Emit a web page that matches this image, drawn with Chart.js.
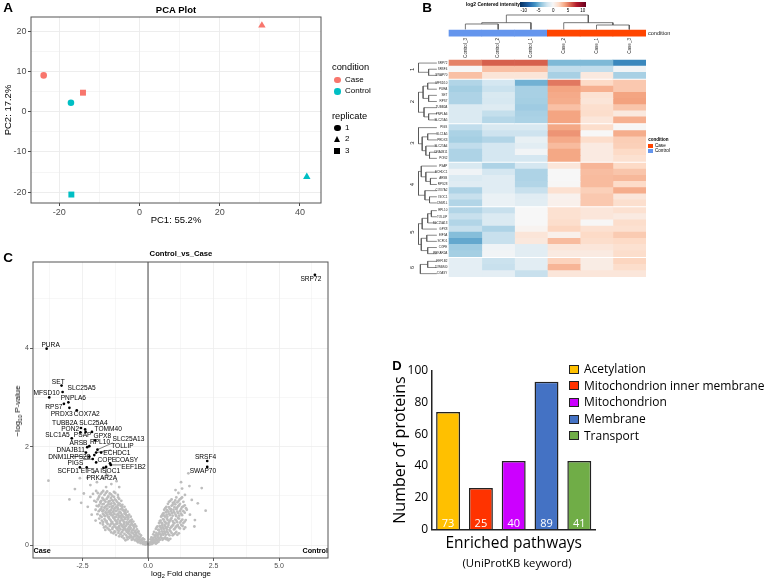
<!DOCTYPE html>
<html>
<head>
<meta charset="utf-8">
<title>Proteomics overview</title>
<script src="https://cdn.jsdelivr.net/npm/chart.js@4.4.1/dist/chart.umd.min.js"></script>
<style>
  body { margin: 0; background: #fff; }
  #fig { position: relative; width: 770px; height: 580px; overflow: hidden; font-family: "Liberation Sans", Arial, sans-serif; color: #000; }
  canvas { position: absolute; }
  .t { position: absolute; white-space: nowrap; line-height: 1; }
  .c { transform: translate(-50%, -50%); }
  .l { transform: translateY(-50%); }
  .b { font-weight: bold; }
  .os { font-family: "Open Sans", sans-serif; }
  .sw { position: absolute; }
  sub { font-size: 70%; vertical-align: -0.3em; line-height: 0; }
</style>
</head>
<body>
<div id="fig">
  <canvas id="pca" width="380" height="235" style="left:0;top:0"></canvas>
  <canvas id="heat" width="390" height="290" style="left:380px;top:0"></canvas>
  <canvas id="volcano" width="380" height="335" style="left:0;top:245px"></canvas>
  <canvas id="keywords" width="390" height="290" style="left:380px;top:290px"></canvas>

  <!-- panel letters -->
  <div class="t c b" style="left:8px;top:8px;font-size:13.5px">A</div>
  <div class="t c b" style="left:427px;top:8px;font-size:13.5px">B</div>
  <div class="t c b" style="left:8px;top:258px;font-size:13.5px">C</div>
  <div class="t c b" style="left:397px;top:365px;font-size:13px">D</div>

  <!-- A: title + legend -->
  <div class="t c b" style="left:176px;top:10px;font-size:9.5px">PCA Plot</div>
  <div class="t l" style="left:332px;top:68px;font-size:9.3px">condition</div>
  <div class="sw" style="left:334px;top:76.8px;width:6.5px;height:6.5px;border-radius:50%;background:#F8766D"></div>
  <div class="t l" style="left:345px;top:80px;font-size:8px">Case</div>
  <div class="sw" style="left:334px;top:88.1px;width:6.5px;height:6.5px;border-radius:50%;background:#00BFC4"></div>
  <div class="t l" style="left:345px;top:91.3px;font-size:8px">Control</div>
  <div class="t l" style="left:332px;top:116.5px;font-size:9.3px">replicate</div>
  <div class="sw" style="left:334px;top:124.5px;width:6.5px;height:6.5px;border-radius:50%;background:#000"></div>
  <div class="t l" style="left:345px;top:127.7px;font-size:8px">1</div>
  <div class="sw" style="left:333.6px;top:136px;width:0;height:0;border-left:3.7px solid transparent;border-right:3.7px solid transparent;border-bottom:6.4px solid #000"></div>
  <div class="t l" style="left:345px;top:139.3px;font-size:8px">2</div>
  <div class="sw" style="left:334.3px;top:148px;width:6px;height:6px;background:#000"></div>
  <div class="t l" style="left:345px;top:151px;font-size:8px">3</div>

  <!-- B: colour key + condition legend -->
  <div class="t l b" style="left:466px;top:4.5px;font-size:4.9px">log2 Centered intensity</div>
  <div class="sw" style="left:520px;top:1.7px;width:66px;height:5.6px;background:linear-gradient(to right,#053061 0%,#2166AC 14%,#4393C3 23%,#92C5DE 32%,#D1E5F0 41%,#F7F7F7 50%,#FDDBC7 59%,#F4A582 68%,#D6604D 77%,#B2182B 86%,#67001F 100%)"></div>
  <div class="t c" style="left:523.7px;top:11px;font-size:4.5px">-10</div>
  <div class="t c" style="left:538.5px;top:11px;font-size:4.5px">-5</div>
  <div class="t c" style="left:553.2px;top:11px;font-size:4.5px">0</div>
  <div class="t c" style="left:568px;top:11px;font-size:4.5px">5</div>
  <div class="t c" style="left:582.7px;top:11px;font-size:4.5px">10</div>
  <div class="t l b" style="left:648.3px;top:140px;font-size:4.5px">condition</div>
  <div class="sw" style="left:648.3px;top:144px;width:4.4px;height:4.4px;background:#FF4500"></div>
  <div class="t l" style="left:655px;top:146.2px;font-size:4.6px">Case</div>
  <div class="sw" style="left:648.3px;top:148.6px;width:4.4px;height:4.6px;background:#6495ED"></div>
  <div class="t l" style="left:655px;top:151px;font-size:4.6px">Control</div>

  <!-- C: title + axis titles -->
  <div class="t c b" style="left:181px;top:254px;font-size:7.7px">Control_vs_Case</div>
  <div class="t c" style="left:181px;top:574px;font-size:8px">log<sub>2</sub> Fold change</div>
  <div class="t" style="left:18px;top:411px;font-size:8px;transform:translate(-50%,-50%) rotate(-90deg)">&minus;log<sub>10</sub> P-value</div>

  <!-- D: legend + subtitle -->
  <div class="sw" style="left:569px;top:364.5px;width:8px;height:7px;border:1.2px solid #222;background:#FFC000"></div>
  <div class="t l os" style="left:584px;top:369px;font-size:12px">Acetylation</div>
  <div class="sw" style="left:569px;top:381.2px;width:8px;height:7px;border:1.2px solid #222;background:#FF3300"></div>
  <div class="t l os" style="left:584px;top:385.7px;font-size:12px">Mitochondrion inner membrane</div>
  <div class="sw" style="left:569px;top:397.8px;width:8px;height:7px;border:1.2px solid #222;background:#CC00FF"></div>
  <div class="t l os" style="left:584px;top:402.3px;font-size:12px">Mitochondrion</div>
  <div class="sw" style="left:569px;top:414.5px;width:8px;height:7px;border:1.2px solid #222;background:#4472C4"></div>
  <div class="t l os" style="left:584px;top:419px;font-size:12px">Membrane</div>
  <div class="sw" style="left:569px;top:431.2px;width:8px;height:7px;border:1.2px solid #222;background:#70AD47"></div>
  <div class="t l os" style="left:584px;top:435.7px;font-size:12px">Transport</div>
  <div class="t c os" style="left:517px;top:563px;font-size:11.3px">(UniProtKB keyword)</div>
</div>

<script>
Chart.defaults.font.family = '"Liberation Sans", Arial, sans-serif';

//================================ DATA ================================

// A - PCA scores, replicates 1, 2, 3
var pcaCaseX = [-23.9, 30.5, -14.1];
var pcaCaseY = [9.0, 21.4, 4.7];
var pcaControlX = [-17.1, 41.7, -17.0];
var pcaControlY = [2.2, -16.2, -20.6];

// B - heatmap (log2 centered intensity)
var heatColumns = ['Control_3', 'Control_2', 'Control_1', 'Case_2', 'Case_1', 'Case_3'];
var heatCondition = ['Control', 'Control', 'Control', 'Case', 'Case', 'Case'];
var groupSizes = [3, 7, 6, 7, 8, 3];
var heatGenes = ['SRP72', 'SRSF4', 'SWAP70',
  'MFSD10', 'PURA', 'SET', 'RPS7', 'TUBB2A', 'PNPLA6', 'SLC25A5',
  'PIGS', 'SLC1A5', 'PRDX3', 'SLC25A4', 'DNAJB11', 'PON2',
  'PSAP', 'ECHDC1', 'ARSB', 'RPS28', 'COX7A2', 'ISOC1', 'DNM1L',
  'RPL10', 'TOLLIP', 'SLC25A13', 'GPX8', 'EIF5A', 'SCFD1', 'COPE', 'PRKAR2A',
  'EEF1B2', 'TOMM40', 'COASY'];
var heatValues = [
  [5, 6, 6, -4.5, -4.5, -6.5],
  [0, 3, 3, -2.5, -2.5, -0.3],
  [3, 1.3, 1.3, -3.3, 1, -3.3],
  [-3, -1.8, -4.8, 5.3, 2, 2.7],
  [-3.4, -2.2, -3.3, 4, 3.6, 2.7],
  [-3.1, -1.6, -3.3, 3.8, 1.5, 4],
  [-3.1, -1.7, -3.4, 3.7, 1.3, 4.1],
  [-1.5, -1.3, -3.6, 3, 1.7, 2.8],
  [-1.5, -2.4, -3.3, 4, 1.8, 1],
  [-1.5, -2.9, -3.2, 4, 1.2, 3.6],
  [-2.5, -1.6, -1.6, 3.9, 1.8, 0.1],
  [-3.2, -2.1, -2.1, 4.5, 0, 3.7],
  [-3.4, -3, -0.8, 3.8, 1.8, 2.5],
  [-2.5, -1.8, -1.1, 3.2, 0.9, 2.4],
  [-3.1, -1.8, -0.3, 3.9, 0.9, 2],
  [-3.1, -1.8, -1.8, 3.9, 0.9, 1.6],
  [-1.6, -3.1, -1.8, 1.2, 3.4, 2],
  [-0.4, -1.8, -3.1, 0, 3.1, 2.8],
  [-1.5, -1.2, -3.1, 0, 3.2, 3.3],
  [-1.2, -1.2, -3, 0.1, 3.2, 1.9],
  [-3.1, -1.2, -2.3, 1.6, 2.4, 3.7],
  [-2.3, -0.7, -1.2, 0.4, 2.7, 1.2],
  [-3, -0.7, -1.1, 0.5, 2.7, 1.7],
  [-3, -2.3, 0, 1.6, 1.2, 1.6],
  [-2.3, -1.5, 0, 1.6, 1.2, 0.9],
  [-3, -1.5, 0, 1.8, 0.1, 1.8],
  [-2.3, -3.1, 0.3, 2.2, 1.6, 1.6],
  [-4.3, -2.3, 1.3, 0.5, 2, 2.6],
  [-5.2, -2.3, 1.1, 3.2, 1.8, 2],
  [-3.6, -0.4, -1.1, 1.2, 1.2, 1.6],
  [-3.4, -0.3, -1.1, 0.9, 0.9, 1.8],
  [-1, -2.2, -1.1, 2.3, 0.8, 2.2],
  [-1, -2.3, -1.1, 3.4, 0.8, 1.8],
  [-1, -1, -2.3, 1.2, 1.2, 1.2]
];
// dendrograms: [height, left, right], leaves are row / column indices
var colTree = [1.0, [0.47, [0.38, 0, 1], 2], [0.47, 3, [0.31, 4, 5]]];
var rowTrees = [
  [1.0, 0, [0.45, 1, 2]],
  [1.0, [0.75, [0.5, 3, 4], [0.45, 5, 6]], [0.7, 7, [0.45, 8, 9]]],
  [1.0, 10, [0.8, [0.5, 11, 12], [0.6, 13, [0.4, 14, 15]]]],
  [1.0, [0.85, 16, [0.6, 17, [0.35, 18, 19]]], [0.65, 20, [0.4, 21, 22]]],
  [1.0, [0.8, [0.5, [0.3, 23, 24], 25], 26], [0.85, [0.55, 27, 28], [0.5, 29, 30]]],
  [0.9, [0.5, 31, 32], 33]
];

// C - volcano, labelled proteins
var volcanoGenes = ['SRP72', 'PURA', 'SET', 'SLC25A5', 'MFSD10', 'PNPLA6', 'RPS7', 'PRDX3', 'COX7A2',
  'TUBB2A', 'SLC25A4', 'PON2', 'TOMM40', 'SLC1A5', 'PSAP', 'GPX8', 'ARSB', 'RPL10', 'SLC25A13',
  'TOLLIP', 'DNAJB11', 'ECHDC1', 'DNM1L', 'RPS28', 'COPE', 'COASY', 'PIGS', 'EEF1B2', 'SCFD1',
  'EIF5A', 'ISOC1', 'PRKAR2A', 'SRSF4', 'SWAP70'];
var volcanoFC = [6.37, -3.87, -3.30, -3.26, -3.77, -3.04, -3.21, -3.00, -2.72,
  -2.56, -2.40, -2.58, -2.14, -2.91, -2.38, -2.02, -2.32, -2.24, -1.93,
  -1.98, -2.37, -1.79, -2.24, -2.05, -1.98, -1.45, -2.11, -1.42, -2.60,
  -2.34, -1.70, -1.60, 2.26, 2.26];
var volcanoP = [5.49, 3.99, 3.24, 3.11, 3.00, 2.90, 2.87, 2.79, 2.74,
  2.38, 2.35, 2.29, 2.30, 2.17, 2.30, 2.13, 1.99, 2.01, 1.94,
  1.88, 1.88, 1.88, 1.80, 1.83, 1.68, 1.66, 1.75, 1.63, 1.58,
  1.58, 1.57, 1.59, 1.71, 1.59];
// C - volcano, remaining proteins [log2FC, -log10 p]
var otherProteins = [
  [-0.04,0.02],[-0.08,0.05],[-0.12,0.03],[-0.15,0.07],[-0.2,0.05],[-0.24,0.09],[-0.28,0.04],[-0.33,0.08],[-0.38,0.06],[-0.1,0.01],[-0.18,0.02],
  [-0.15,0.12],[-0.2,0.14],[-0.26,0.11],[-0.32,0.15],[-0.38,0.12],[-0.44,0.14],[-0.5,0.1],[-0.56,0.13],[-0.62,0.11],[-0.7,0.15],[-0.78,0.12],[-0.86,0.1],[-0.29,0.17],
  [-0.27,0.2],[-0.33,0.23],[-0.4,0.19],[-0.46,0.25],[-0.52,0.21],[-0.58,0.24],[-0.64,0.18],[-0.7,0.22],[-0.76,0.25],[-0.83,0.2],[-0.9,0.23],[-0.97,0.19],[-1.05,0.22],[-1.13,0.25],[-1.22,0.21],[-1.32,0.24],[-0.55,0.17],[-0.73,0.17],
  [-0.36,0.28],[-0.42,0.32],[-0.48,0.29],[-0.54,0.34],[-0.6,0.3],[-0.66,0.35],[-0.72,0.28],[-0.78,0.33],[-0.85,0.3],[-0.92,0.35],[-0.98,0.27],[-1.05,0.32],[-1.12,0.29],[-1.2,0.34],[-1.28,0.28],[-1.36,0.33],[-1.45,0.3],[-1.55,0.35],[-1.63,0.31],
  [-0.45,0.38],[-0.5,0.42],[-0.57,0.4],[-0.63,0.45],[-0.7,0.38],[-0.76,0.43],[-0.83,0.4],[-0.9,0.45],[-0.96,0.37],[-1.03,0.42],[-1.1,0.39],[-1.17,0.44],[-1.24,0.37],[-1.31,0.42],[-1.38,0.45],[-1.46,0.39],[-1.54,0.43],[-1.62,0.38],[-1.72,0.42],[-1.82,0.45],
  [-0.56,0.48],[-0.62,0.52],[-0.68,0.5],[-0.75,0.55],[-0.82,0.47],[-0.88,0.53],[-0.95,0.5],[-1.02,0.55],[-1.08,0.48],[-1.15,0.52],[-1.22,0.49],[-1.29,0.54],[-1.36,0.47],[-1.43,0.51],[-1.5,0.55],[-1.58,0.49],[-1.66,0.53],[-1.76,0.5],[-1.86,0.54],
  [-0.66,0.58],[-0.72,0.62],[-0.79,0.6],[-0.86,0.65],[-0.93,0.57],[-1.0,0.62],[-1.07,0.59],[-1.14,0.64],[-1.21,0.58],[-1.28,0.63],[-1.35,0.6],[-1.42,0.65],[-1.49,0.57],[-1.56,0.62],[-1.64,0.59],[-1.72,0.64],[-1.82,0.6],[-1.93,0.63],
  [-0.78,0.68],[-0.85,0.72],[-0.92,0.7],[-0.99,0.75],[-1.06,0.67],[-1.13,0.73],[-1.2,0.7],[-1.27,0.75],[-1.34,0.68],[-1.41,0.72],[-1.48,0.69],[-1.55,0.74],[-1.62,0.67],[-1.7,0.71],[-1.78,0.74],[-1.88,0.69],[-2.0,0.72],
  [-0.9,0.78],[-0.98,0.82],[-1.05,0.8],[-1.12,0.85],[-1.19,0.77],[-1.26,0.83],[-1.33,0.8],[-1.4,0.85],[-1.47,0.78],[-1.54,0.82],[-1.61,0.79],[-1.69,0.84],[-1.77,0.78],[-1.86,0.82],[-1.96,0.8],
  [-1.02,0.9],[-1.1,0.94],[-1.18,0.88],[-1.26,0.93],[-1.34,0.9],[-1.42,0.96],[-1.5,0.89],[-1.58,0.94],[-1.66,0.91],[-1.74,0.96],[-1.82,0.88],[-1.92,0.93],[-2.05,0.9],
  [-1.15,1.02],[-1.25,1.06],[-1.36,1.0],[-1.46,1.05],[-1.56,1.09],[-1.66,1.02],[-1.76,1.07],[-1.86,1.0],[-1.98,1.1],[-2.1,1.04],
  [-0.07,0.06],[-0.14,0.04],[-0.22,0.12],[-0.3,0.1],[-0.36,0.16],[-0.43,0.09],[-0.48,0.18],[-0.6,0.15],[-0.66,0.2],[-0.8,0.16],[-0.92,0.14],[-1.0,0.17],[-1.1,0.18],
  [-0.39,0.26],[-0.45,0.21],[-0.51,0.27],[-0.57,0.31],[-0.63,0.26],[-0.69,0.32],[-0.75,0.3],[-0.81,0.27],[-0.88,0.33],[-0.95,0.31],[-1.01,0.26],[-1.09,0.35],[-1.16,0.31],[-1.25,0.27],[-1.4,0.26],[-1.5,0.32],
  [-0.53,0.37],[-0.6,0.42],[-0.67,0.41],[-0.73,0.36],[-0.8,0.44],[-0.87,0.38],[-0.93,0.42],[-1.0,0.39],[-1.07,0.45],[-1.14,0.36],[-1.21,0.43],[-1.28,0.39],[-1.35,0.36],[-1.43,0.42],[-1.58,0.46],[-1.68,0.36],
  [-0.65,0.49],[-0.72,0.47],[-0.78,0.52],[-0.85,0.56],[-0.92,0.47],[-0.99,0.52],[-1.05,0.5],[-1.12,0.56],[-1.19,0.47],[-1.26,0.51],[-1.33,0.56],[-1.4,0.48],[-1.47,0.53],[-1.62,0.5],[-1.71,0.47],
  [-0.76,0.57],[-0.83,0.61],[-0.9,0.64],[-0.97,0.59],[-1.04,0.65],[-1.11,0.6],[-1.18,0.62],[-1.25,0.57],[-1.32,0.66],[-1.39,0.61],[-1.46,0.63],[-1.53,0.58],[-1.6,0.65],[-1.68,0.61],[-1.77,0.57],
  [-0.88,0.67],[-0.95,0.71],[-1.02,0.73],[-1.09,0.68],[-1.16,0.76],[-1.23,0.69],[-1.3,0.72],[-1.37,0.76],[-1.44,0.7],[-1.51,0.67],[-1.58,0.72],[-1.66,0.76],[-1.74,0.69],[-1.83,0.72],
  [-1.0,0.79],[-1.08,0.84],[-1.15,0.81],[-1.22,0.78],[-1.3,0.86],[-1.37,0.79],[-1.44,0.83],[-1.51,0.86],[-1.58,0.8],[-1.65,0.77],[-1.73,0.83],[-1.81,0.86],[-1.9,0.79],
  [-1.14,0.97],[-1.22,0.91],[-1.3,0.98],[-1.38,0.92],[-1.46,0.9],[-1.54,0.97],[-1.62,0.88],[-1.7,0.93],[-1.78,0.9],[-1.88,0.97],[-1.98,0.88],
  [-1.3,1.08],[-1.41,1.03],[-1.51,1.0],[-1.61,1.06],[-1.71,1.1],[-1.81,1.04],[-1.92,1.06],
  [-3.8,1.31],[-3.0,0.93],[-2.79,1.14],[-2.6,1.36],[-2.32,1.37],[-2.05,1.48],[-2.2,1.22],[-1.95,1.28],[-1.72,1.36],[-1.55,1.42],[-1.4,1.24],[-1.2,1.3],[-2.45,1.05],[-2.2,0.98],[-1.6,1.18],[-1.1,1.18],[-2.55,0.86],[-2.3,0.78],[-2.15,0.62],[-2.0,0.5],
  [0.04,0.02],[0.08,0.05],[0.12,0.03],[0.16,0.07],[0.2,0.04],[0.25,0.06],[0.3,0.03],[0.06,0.01],
  [0.1,0.12],[0.15,0.1],[0.2,0.15],[0.25,0.11],[0.3,0.14],[0.36,0.1],[0.42,0.13],[0.48,0.16],[0.55,0.11],[0.62,0.14],[0.7,0.12],[0.78,0.1],
  [0.2,0.22],[0.26,0.19],[0.32,0.25],[0.38,0.21],[0.44,0.27],[0.5,0.2],[0.56,0.24],[0.62,0.28],[0.68,0.21],[0.75,0.26],[0.82,0.2],[0.9,0.25],[0.98,0.22],[1.08,0.27],[1.18,0.24],
  [0.3,0.33],[0.36,0.38],[0.42,0.31],[0.48,0.36],[0.54,0.4],[0.6,0.33],[0.66,0.38],[0.72,0.32],[0.78,0.41],[0.85,0.35],[0.92,0.39],[0.99,0.32],[1.06,0.37],[1.14,0.41],[1.22,0.34],[1.32,0.39],[1.42,0.36],
  [0.42,0.45],[0.48,0.5],[0.54,0.44],[0.6,0.52],[0.66,0.47],[0.72,0.54],[0.78,0.45],[0.84,0.5],[0.9,0.55],[0.97,0.46],[1.04,0.52],[1.11,0.47],[1.18,0.54],[1.26,0.49],[1.35,0.45],[1.44,0.51],
  [0.5,0.58],[0.56,0.63],[0.62,0.6],[0.68,0.67],[0.74,0.58],[0.8,0.64],[0.87,0.69],[0.94,0.6],[1.01,0.66],[1.08,0.59],[1.15,0.65],[1.22,0.69],[1.3,0.61],[1.4,0.66],
  [0.62,0.72],[0.7,0.78],[0.76,0.84],[0.83,0.74],[0.9,0.8],[0.97,0.72],[1.04,0.83],[1.11,0.76],[1.18,0.81],[1.26,0.73],[1.35,0.79],[1.45,0.75],
  [0.8,0.88],[0.9,0.93],[1.0,0.87],[1.08,0.97],[1.17,0.9],[1.26,0.95],[1.35,0.88],
  [0.1,0.06],[0.14,0.02],[0.22,0.08],[0.28,0.08],[0.34,0.05],[0.4,0.07],
  [0.13,0.16],[0.18,0.12],[0.27,0.17],[0.33,0.12],[0.39,0.16],[0.45,0.11],[0.52,0.15],[0.58,0.13],[0.66,0.16],[0.74,0.14],[0.85,0.13],
  [0.23,0.27],[0.29,0.21],[0.35,0.19],[0.41,0.24],[0.47,0.22],[0.53,0.28],[0.59,0.21],[0.65,0.25],[0.71,0.28],[0.78,0.22],[0.86,0.28],[0.94,0.2],[1.03,0.24],[1.12,0.21],
  [0.33,0.36],[0.39,0.31],[0.45,0.39],[0.51,0.33],[0.57,0.36],[0.63,0.41],[0.69,0.35],[0.75,0.37],[0.82,0.31],[0.89,0.37],[0.96,0.41],[1.03,0.34],[1.1,0.39],[1.18,0.36],[1.27,0.41],[1.37,0.33],
  [0.45,0.49],[0.51,0.46],[0.57,0.53],[0.63,0.48],[0.69,0.44],[0.75,0.51],[0.81,0.47],[0.87,0.53],[0.94,0.49],[1.01,0.45],[1.08,0.5],[1.15,0.55],[1.22,0.46],[1.31,0.52],[1.4,0.48],
  [0.53,0.6],[0.59,0.65],[0.65,0.58],[0.71,0.62],[0.77,0.68],[0.84,0.61],[0.91,0.65],[0.98,0.68],[1.05,0.62],[1.12,0.68],[1.19,0.6],[1.26,0.64],[1.35,0.69],
  [0.66,0.75],[0.73,0.71],[0.8,0.77],[0.87,0.73],[0.94,0.82],[1.01,0.77],[1.08,0.73],[1.15,0.79],[1.22,0.84],[1.3,0.77],[1.4,0.81],
  [0.85,0.9],[0.95,0.86],[1.04,0.91],[1.12,0.87],[1.21,0.93],[1.3,0.97],
  [1.26,1.28],[1.54,1.46],[2.05,1.16],[1.79,0.51],[1.67,0.92],[1.41,1.02],[1.16,1.06],[1.48,0.72],[1.6,0.62],[1.77,0.38],[1.05,1.12],[1.3,1.15],[1.9,0.85],[1.58,1.2],[2.2,0.7]
];

// D - enriched UniProtKB keywords
var keywords = ['Acetylation', 'Mitochondrion inner membrane', 'Mitochondrion', 'Membrane', 'Transport'];
var keywordBars = [74, 26, 43, 93, 43];
var keywordCounts = [73, 25, 40, 89, 41];

//================================ STYLE ================================
var replicateShapes = ['circle', 'triangle', 'rect'];
var replicateRadius = [3.3, 4.3, 4.2];
var keywordColors = ['#FFC000', '#FF3300', '#CC00FF', '#4472C4', '#70AD47'];
// label offsets (px) for the volcano labels, same order as volcanoGenes
var labelOffsets = [[-4,4.7],[4,-4],[-3.3,-3.3],[19,-4],[-2.7,-4],[5,-4],[-10,3],[-7.7,6.3],[10,4],
  [-16,-5],[8.3,-6.7],[-10.3,-3.7],[16.3,-3],[-14.3,-2.7],[-3,3.7],[7.3,-4.3],[-8.7,-3.7],[10.7,-3.7],[31,-10],
  [26.3,-6],[-15.3,-2.3],[15.7,0.7],[-30,0.3],[-14.3,1.7],[10.7,-2.3],[16.7,-3],[-17.3,4],[22.7,2.3],[-11.7,3.3],
  [3.3,4],[6.7,3.7],[-4.3,11.7],[-1.7,-3.7],[-4.3,4.3]];

var rdbu = ['#053061', '#2166AC', '#4393C3', '#92C5DE', '#D1E5F0', '#F7F7F7', '#FDDBC7', '#F4A582', '#D6604D', '#B2182B', '#67001F'];

function hexRgb(h) {
  return [parseInt(h.slice(1, 3), 16), parseInt(h.slice(3, 5), 16), parseInt(h.slice(5, 7), 16)];
}

function heatColor(v) {
  var t = Math.max(0, Math.min(10, (v + 10) / 2));
  var i = Math.min(9, Math.floor(t)), f = t - i;
  var a = hexRgb(rdbu[i]), b = hexRgb(rdbu[i + 1]);
  return 'rgb(' + a.map(function (c, k) { return Math.round(c + (b[k] - c) * f); }).join(',') + ')';
}

// box round the plotting region (ggplot theme_bw)
var panelBorder = {
  id: 'panelBorder',
  afterDraw: function (chart, args, opts) {
    var ctx = chart.ctx, a = chart.chartArea;
    ctx.save();
    ctx.strokeStyle = opts.color || '#333';
    ctx.lineWidth = opts.width || 1;
    ctx.strokeRect(a.left, a.top, a.right - a.left, a.bottom - a.top);
    ctx.restore();
  }
};

function major(step) {
  return function (v) { return Math.abs(v / step - Math.round(v / step)) < 1e-6; };
}

//================================ A : PCA ================================
var isMajorA20 = major(20), isMajorA10 = major(10);
new Chart(document.getElementById('pca'), {
  type: 'scatter',
  data: {
    datasets: [{
      label: 'Case',
      data: pcaCaseX.map(function (x, i) { return {x: x, y: pcaCaseY[i]}; }),
      backgroundColor: '#F8766D', borderWidth: 0,
      pointStyle: replicateShapes, pointRadius: replicateRadius
    }, {
      label: 'Control',
      data: pcaControlX.map(function (x, i) { return {x: x, y: pcaControlY[i]}; }),
      backgroundColor: '#00BFC4', borderWidth: 0,
      pointStyle: replicateShapes, pointRadius: replicateRadius
    }]
  },
  options: {
    responsive: false, animation: false, events: [],
    layout: {padding: {left: 0, right: 59, top: 17, bottom: 0}},
    plugins: {legend: {display: false}, tooltip: {enabled: false}, panelBorder: {color: '#555', width: 1}},
    scales: {
      x: {
        type: 'linear', min: -27.06, max: 45.24,
        afterFit: function (s) { s.height = 32; },
        border: {display: false},
        grid: {
          color: '#EBEBEB', tickLength: 3,
          lineWidth: function (c) { return c.tick && isMajorA20(c.tick.value) ? 0.9 : 0.5; },
          tickColor: function (c) { return c.tick && isMajorA20(c.tick.value) ? '#333' : 'rgba(0,0,0,0)'; }
        },
        ticks: {
          stepSize: 10, includeBounds: false, autoSkip: false, maxRotation: 0, padding: 1,
          color: '#4D4D4D', font: {size: 9},
          callback: function (v) { return isMajorA20(v) ? v : ''; }
        },
        title: {display: true, text: 'PC1: 55.2%', color: '#000', font: {size: 9.5}, padding: {top: 0, bottom: 9.3}}
      },
      y: {
        type: 'linear', min: -22.7, max: 23.5,
        afterFit: function (s) { s.width = 31; },
        border: {display: false},
        grid: {
          color: '#EBEBEB', tickLength: 3,
          lineWidth: function (c) { return c.tick && isMajorA10(c.tick.value) ? 0.9 : 0.5; },
          tickColor: function (c) { return c.tick && isMajorA10(c.tick.value) ? '#333' : 'rgba(0,0,0,0)'; }
        },
        ticks: {
          stepSize: 5, includeBounds: false, autoSkip: false, padding: 1.5,
          color: '#4D4D4D', font: {size: 9},
          callback: function (v) { return isMajorA10(v) ? v : ''; }
        },
        title: {display: true, text: 'PC2: 17.2%', color: '#000', font: {size: 9.5}, padding: {top: 2.3, bottom: 0}}
      }
    }
  },
  plugins: [panelBorder]
});

//================================ B : HEATMAP ================================
var rowPos = [];
groupSizes.forEach(function (n, g) {
  for (var k = 0; k < n; k++) rowPos.push(rowPos.length + g * 0.25 + 0.5);
});

function dendroPoints(tree, leafPos, place) {
  var pts = [];
  function walk(node) {
    if (typeof node === 'number') return {pos: leafPos(node), h: 0};
    var A = walk(node[1]), B = walk(node[2]), h = node[0];
    pts.push(place(A.pos, A.h), place(A.pos, h), place(B.pos, h), place(B.pos, B.h), {x: null, y: null});
    return {pos: (A.pos + B.pos) / 2, h: h};
  }
  walk(tree);
  return pts;
}

var rowDendro = [];
rowTrees.forEach(function (t) {
  rowDendro = rowDendro.concat(dendroPoints(t,
    function (i) { return rowPos[i]; },
    function (p, h) { return {x: -0.37 - h * 0.56, y: p}; }));
});
var colDendro = dendroPoints(colTree,
  function (i) { return i + 0.5; },
  function (p, h) { return {x: p, y: -4.96 - h * 2.36}; });

var heatSets = heatColumns.map(function (name, c) {
  return {
    type: 'bar', indexAxis: 'y', grouped: false, barPercentage: 1, categoryPercentage: 1, borderWidth: 0,
    data: rowPos.map(function (y) { return {y: y, x: [c, c + 1]}; }),
    backgroundColor: heatValues.map(function (row) { return heatColor(row[c]); })
  };
});
heatSets.push({
  type: 'bar', indexAxis: 'y', grouped: false, barPercentage: 1, categoryPercentage: 1, borderWidth: 0,
  data: heatColumns.map(function (n, c) { return {y: -4.37, x: [c, c + 1]}; }),
  backgroundColor: heatCondition.map(function (c) { return c === 'Case' ? '#FF4500' : '#6495ED'; })
});
heatSets.push({
  type: 'scatter', showLine: true, spanGaps: false, pointRadius: 0,
  borderColor: '#555', borderWidth: 0.7, data: rowDendro
});
heatSets.push({
  type: 'scatter', showLine: true, spanGaps: false, pointRadius: 0,
  borderColor: '#555', borderWidth: 0.8, data: colDendro
});

var heatText = {
  id: 'heatText',
  afterDatasetsDraw: function (chart) {
    var ctx = chart.ctx, x = chart.scales.x, y = chart.scales.y;
    ctx.save();
    ctx.fillStyle = '#222';
    ctx.textBaseline = 'middle';
    // gene names
    ctx.font = '3px "Liberation Sans"';
    ctx.textAlign = 'right';
    heatGenes.forEach(function (g, i) {
      ctx.fillText(g, x.getPixelForValue(-0.05), y.getPixelForValue(rowPos[i]));
    });
    // split numbers
    ctx.font = '6px "Liberation Sans"';
    ctx.textAlign = 'center';
    var start = 0;
    groupSizes.forEach(function (n, g) {
      var yc = y.getPixelForValue((rowPos[start] + rowPos[start + n - 1]) / 2);
      ctx.save();
      ctx.translate(x.getPixelForValue(-1.107), yc);
      ctx.rotate(-Math.PI / 2);
      ctx.fillText(String(g + 1), 0, 0);
      ctx.restore();
      start += n;
    });
    // sample names
    ctx.font = '4.6px "Liberation Sans"';
    ctx.textAlign = 'right';
    heatColumns.forEach(function (c, i) {
      ctx.save();
      ctx.translate(x.getPixelForValue(i + 0.5), y.getPixelForValue(-3.58));
      ctx.rotate(-Math.PI / 2);
      ctx.fillText(c, 0, 0);
      ctx.restore();
    });
    ctx.font = '5.6px "Liberation Sans"';
    ctx.textAlign = 'left';
    ctx.fillText('condition', x.getPixelForValue(6.07), y.getPixelForValue(-4.37));
    ctx.restore();
  }
};

new Chart(document.getElementById('heat'), {
  type: 'bar',
  data: {datasets: heatSets},
  options: {
    responsive: false, animation: false, events: [],
    layout: {padding: 0, autoPadding: false},
    plugins: {legend: {display: false}, tooltip: {enabled: false}},
    scales: {
      x: {type: 'linear', min: -2.105, max: 9.793, offset: false, grace: 0, display: false},
      y: {type: 'linear', min: -9.759, max: 37.41, offset: false, grace: 0, reverse: true, display: false, ticks: {stepSize: 5}}
    }
  },
  plugins: [heatText]
});

//================================ C : VOLCANO ================================
var isMajorX = major(2.5), isMajorY = major(2);

var geneLabels = {
  id: 'geneLabels',
  afterDatasetsDraw: function (chart) {
    var ctx = chart.ctx, x = chart.scales.x, y = chart.scales.y, a = chart.chartArea;
    ctx.save();
    ctx.font = '6.6px "Liberation Sans"';
    ctx.textAlign = 'center';
    ctx.textBaseline = 'middle';
    volcanoGenes.forEach(function (g, i) {
      var px = x.getPixelForValue(volcanoFC[i]), py = y.getPixelForValue(volcanoP[i]);
      var lx = px + labelOffsets[i][0], ly = py + labelOffsets[i][1];
      var w = ctx.measureText(g).width / 2, h = 3.3;
      var ex = Math.max(lx - w, Math.min(px, lx + w)), ey = Math.max(ly - h, Math.min(py, ly + h));
      if (Math.hypot(ex - px, ey - py) > 7) {
        ctx.strokeStyle = '#000';
        ctx.lineWidth = 0.5;
        ctx.beginPath();
        ctx.moveTo(px, py);
        ctx.lineTo(ex, ey);
        ctx.stroke();
      }
      ctx.fillStyle = '#000';
      ctx.fillText(g, lx, ly);
    });
    ctx.font = 'bold 7.2px "Liberation Sans"';
    ctx.textAlign = 'left';
    ctx.fillText('Case', a.left + 0.5, a.bottom - 6.7);
    ctx.textAlign = 'right';
    ctx.fillText('Control', a.right, a.bottom - 6.7);
    ctx.restore();
  }
};

new Chart(document.getElementById('volcano'), {
  type: 'scatter',
  data: {
    datasets: [{
      data: [{x: 0, y: -0.26}, {x: 0, y: 5.75}],
      showLine: true, pointRadius: 0, borderColor: '#444', borderWidth: 1
    }, {
      data: otherProteins.map(function (p) { return {x: p[0], y: p[1]}; }),
      backgroundColor: '#BDBDBD', borderWidth: 0, pointRadius: 1.4
    }, {
      data: volcanoFC.map(function (v, i) { return {x: v, y: volcanoP[i]}; }),
      backgroundColor: '#000', borderWidth: 0, pointRadius: 1.35
    }]
  },
  options: {
    responsive: false, animation: false, events: [],
    layout: {padding: {left: 0, right: 52, top: 17, bottom: 0}},
    plugins: {legend: {display: false}, tooltip: {enabled: false}, panelBorder: {color: '#555', width: 1}},
    scales: {
      x: {
        type: 'linear', min: -4.39, max: 6.87,
        afterFit: function (s) { s.height = 22; },
        border: {display: false},
        grid: {
          color: '#EDEDED', tickLength: 3,
          lineWidth: function (c) { return c.tick && isMajorX(c.tick.value) ? 0.8 : 0.45; },
          tickColor: function (c) { return c.tick && isMajorX(c.tick.value) ? '#333' : 'rgba(0,0,0,0)'; }
        },
        ticks: {
          stepSize: 1.25, includeBounds: false, autoSkip: false, maxRotation: 0, padding: 1,
          color: '#4D4D4D', font: {size: 7},
          callback: function (v) { return isMajorX(v) ? v.toFixed(1) : ''; }
        }
      },
      y: {
        type: 'linear', min: -0.26, max: 5.75,
        afterFit: function (s) { s.width = 33; },
        border: {display: false},
        grid: {
          color: '#EDEDED', tickLength: 3,
          lineWidth: function (c) { return c.tick && isMajorY(c.tick.value) ? 0.8 : 0.45; },
          tickColor: function (c) { return c.tick && isMajorY(c.tick.value) ? '#333' : 'rgba(0,0,0,0)'; }
        },
        ticks: {
          stepSize: 1, includeBounds: false, autoSkip: false, padding: 1,
          color: '#4D4D4D', font: {size: 7},
          callback: function (v) { return isMajorY(v) ? v : ''; }
        }
      }
    }
  },
  plugins: [panelBorder, geneLabels]
});

//================================ D : KEYWORDS ================================
var barCounts = {
  id: 'barCounts',
  afterDatasetsDraw: function (chart) {
    var ctx = chart.ctx, a = chart.chartArea;
    ctx.save();
    ctx.font = '11px "Open Sans"';
    ctx.fillStyle = '#fff';
    ctx.textAlign = 'center';
    ctx.textBaseline = 'middle';
    chart.getDatasetMeta(0).data.forEach(function (bar, i) {
      ctx.fillText(String(keywordCounts[i]), bar.x, a.bottom - 5.5);
    });
    ctx.restore();
  }
};

new Chart(document.getElementById('keywords'), {
  type: 'bar',
  data: {
    labels: keywords,
    datasets: [{
      data: keywordBars,
      backgroundColor: keywordColors,
      borderColor: '#222', borderWidth: 1.5,
      barPercentage: 0.73, categoryPercentage: 1
    }]
  },
  options: {
    responsive: false, animation: false, events: [],
    layout: {padding: {left: 0, right: 174.3, top: 80.7, bottom: 0}},
    plugins: {legend: {display: false}, tooltip: {enabled: false}},
    scales: {
      x: {
        afterFit: function (s) { s.height = 50.7; },
        grid: {display: false, drawTicks: false},
        ticks: {display: false},
        border: {display: true, color: '#222', width: 1.5},
        title: {display: true, text: 'Enriched pathways', color: '#000', font: {family: '"Open Sans"', size: 15.5}, padding: {top: 0, bottom: 26.7}}
      },
      y: {
        min: 0, max: 100,
        afterFit: function (s) { s.width = 51.7; },
        grid: {display: false, drawTicks: false},
        border: {display: true, color: '#222', width: 1.5},
        ticks: {stepSize: 20, padding: 3.5, color: '#000', font: {family: '"Open Sans"', size: 12}},
        title: {display: true, text: 'Number of proteins', color: '#000', font: {family: '"Open Sans"', size: 16}, padding: {top: 10.4, bottom: 0}}
      }
    }
  },
  plugins: [barCounts]
});
</script>
</body>
</html>
